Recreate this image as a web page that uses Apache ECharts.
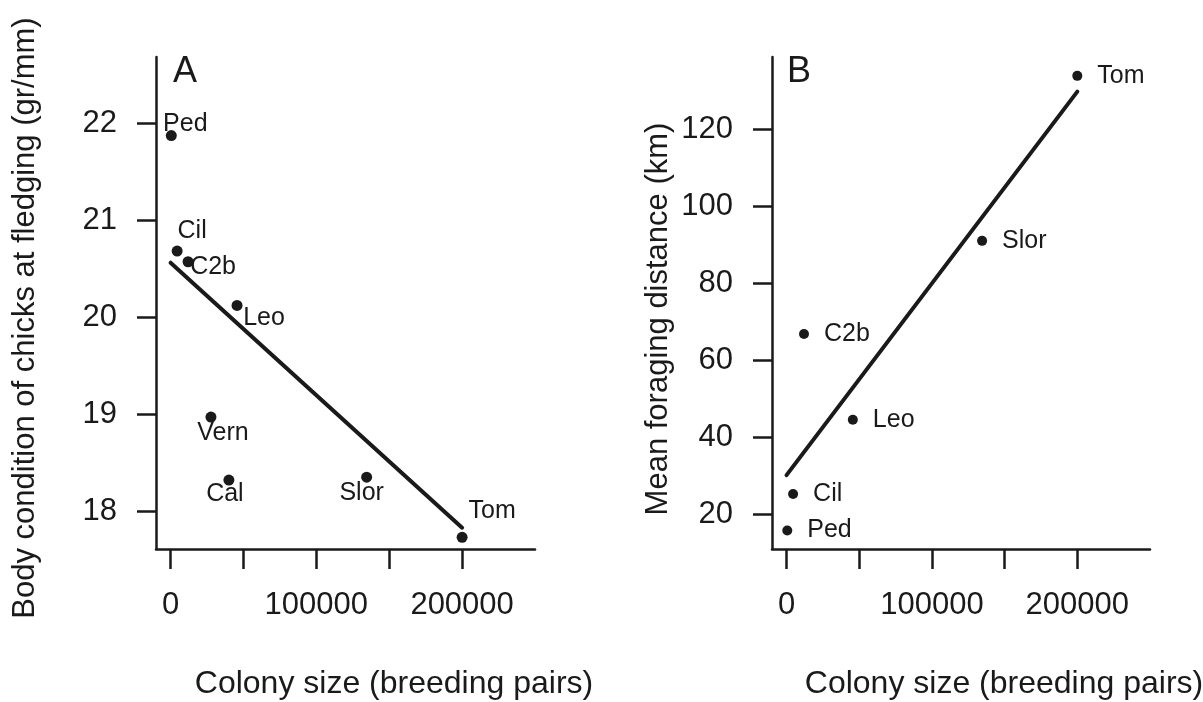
<!DOCTYPE html>
<html>
<head>
<meta charset="utf-8">
<script src="https://cdn.jsdelivr.net/npm/echarts@6/dist/echarts.min.js"></script>
<style>
html,body{margin:0;padding:0;background:#fff;}
#c{width:1203px;height:702px;}
</style>
</head>
<body>
<div id="c"></div>
<script>
// ---- data ----
var sitesA = ['Ped', 'Cil', 'C2b', 'Leo', 'Vern', 'Cal', 'Slor', 'Tom'];
var colonyA = [500, 4500, 12000, 45600, 27700, 40000, 134500, 200000];
var conditionA = [21.87, 20.68, 20.57, 20.12, 18.97, 18.32, 18.35, 17.73];

var sitesB = ['Ped', 'Cil', 'C2b', 'Leo', 'Slor', 'Tom'];
var colonyB = [500, 4500, 12000, 45600, 134500, 200000];
var distanceB = [15.7, 25.2, 66.8, 44.5, 91.0, 133.9];

var fitX = [0, 200000];
var fitA = [20.56, 17.83];
var fitB = [30.1, 129.8];

var xTicks = [0, 50000, 100000, 150000, 200000];
var xTickLabels = [0, 100000, 200000];
var yTicksA = [18, 19, 20, 21, 22];
var yTicksB = [20, 40, 60, 80, 100, 120];

// ---- styling (label offsets for panel A, px) ----
var labelOffsetA = {
  'Ped': [14, -11], 'Cil': [15, -20], 'C2b': [25, 5], 'Leo': [27, 13],
  'Vern': [12, 16], 'Cal': [-4, 14], 'Slor': [-5, 16], 'Tom': [30, -26]
};

var INK = '#1a1a1a';
var FONT = '"Liberation Sans", Arial, Helvetica, sans-serif';
function plain(v) { return String(v); }

function xAxisOpt(gi) {
  return {
    gridIndex: gi, type: 'value', min: -10000, max: 250000,
    axisLine: { show: true, onZero: false, lineStyle: { color: INK, width: 2.5 } },
    axisTick: { show: true, length: 20, lineStyle: { color: INK, width: 2.5 }, customValues: xTicks },
    axisLabel: { customValues: xTickLabels, formatter: plain, fontSize: 31, margin: 41, color: INK, fontFamily: FONT },
    splitLine: { show: false }
  };
}
function yAxisOpt(gi, mn, mx, ticks) {
  return {
    gridIndex: gi, type: 'value', min: mn, max: mx,
    axisLine: { show: true, onZero: false, lineStyle: { color: INK, width: 2.5 } },
    axisTick: { show: true, length: 19, lineStyle: { color: INK, width: 2.5 }, customValues: ticks },
    axisLabel: { customValues: ticks, formatter: plain, fontSize: 31, margin: 39, color: INK, fontFamily: FONT },
    splitLine: { show: false }
  };
}

var dataA = sitesA.map(function (s, i) {
  return {
    name: s, value: [colonyA[i], conditionA[i]],
    label: { offset: labelOffsetA[s] }
  };
});
var dataB = sitesB.map(function (s, i) {
  return { name: s, value: [colonyB[i], distanceB[i]] };
});

var option = {
  animation: false,
  backgroundColor: '#fff',
  textStyle: { fontFamily: FONT },
  grid: [
    { left: 156, top: 57, width: 379, height: 492 },
    { left: 772, top: 57, width: 378, height: 492 }
  ],
  xAxis: [xAxisOpt(0), xAxisOpt(1)],
  yAxis: [
    yAxisOpt(0, 17.61, 22.68, yTicksA),
    yAxisOpt(1, 10.9, 138.8, yTicksB)
  ],
  series: [
    {
      type: 'line', xAxisIndex: 0, yAxisIndex: 0,
      data: fitX.map(function (x, i) { return [x, fitA[i]]; }),
      symbol: 'none', lineStyle: { color: INK, width: 4, cap: 'round' }, z: 2
    },
    {
      type: 'scatter', xAxisIndex: 0, yAxisIndex: 0, data: dataA,
      symbolSize: 11, itemStyle: { color: INK, opacity: 1 },
      label: {
        show: true, position: 'inside', formatter: '{b}',
        fontSize: 25, color: INK, fontFamily: FONT,
        align: 'center', verticalAlign: 'middle'
      }, z: 3
    },
    {
      type: 'line', xAxisIndex: 1, yAxisIndex: 1,
      data: fitX.map(function (x, i) { return [x, fitB[i]]; }),
      symbol: 'none', lineStyle: { color: INK, width: 4, cap: 'round' }, z: 2
    },
    {
      type: 'scatter', xAxisIndex: 1, yAxisIndex: 1, data: dataB,
      symbolSize: 10, itemStyle: { color: INK, opacity: 1 },
      label: {
        show: true, position: 'right', distance: 15, formatter: '{b}',
        fontSize: 25, color: INK, fontFamily: FONT
      }, z: 3
    }
  ],
  graphic: [
    { type: 'text', x: 185, y: 72, style: { text: 'A', fontSize: 36, fontFamily: FONT, fill: INK, textAlign: 'center', textVerticalAlign: 'middle' } },
    { type: 'text', x: 799, y: 72, style: { text: 'B', fontSize: 36, fontFamily: FONT, fill: INK, textAlign: 'center', textVerticalAlign: 'middle' } },
    { type: 'text', x: 25, y: 318, rotation: Math.PI / 2, style: { text: 'Body condition of chicks at fledging (gr/mm)', fontSize: 31, fontFamily: FONT, fill: INK, textAlign: 'center', textVerticalAlign: 'middle' } },
    { type: 'text', x: 658, y: 319, rotation: Math.PI / 2, style: { text: 'Mean foraging distance (km)', fontSize: 31, fontFamily: FONT, fill: INK, textAlign: 'center', textVerticalAlign: 'middle' } },
    { type: 'text', x: 394, y: 684, style: { text: 'Colony size (breeding pairs)', fontSize: 32, fontFamily: FONT, fill: INK, textAlign: 'center', textVerticalAlign: 'middle' } },
    { type: 'text', x: 1004, y: 684, style: { text: 'Colony size (breeding pairs)', fontSize: 32, fontFamily: FONT, fill: INK, textAlign: 'center', textVerticalAlign: 'middle' } }
  ]
};

var chart = echarts.init(document.getElementById('c'), null, { renderer: 'canvas' });
chart.setOption(option);
</script>
</body>
</html>
